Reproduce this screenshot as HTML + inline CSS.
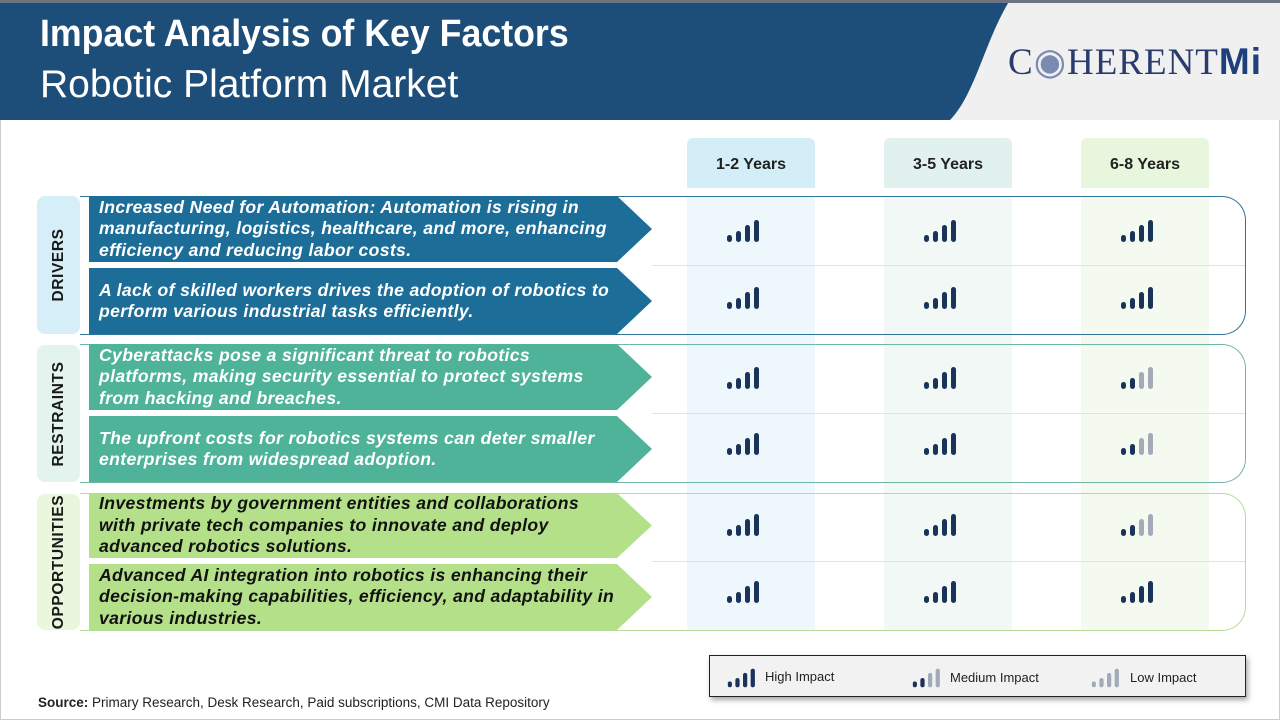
<!DOCTYPE html>
<html><head><meta charset="utf-8"><style>
*{margin:0;padding:0;box-sizing:border-box}
body{width:1280px;height:720px;overflow:hidden;background:#fff;font-family:"Liberation Sans",sans-serif;position:relative}
.abs{position:absolute}
.arrow{position:absolute;left:89px;width:563px;clip-path:polygon(0 0,528px 0,100% 50%,528px 100%,0 100%);color:#fff;font-style:italic;font-weight:bold;font-size:17.6px;letter-spacing:0.35px;line-height:21.5px;padding-left:10px;display:flex;align-items:center;white-space:nowrap}
.side{position:absolute;left:37px;width:43px;border-radius:8px}
.side span{position:absolute;left:50%;top:50%;transform:translate(-50%,-50%) rotate(-90deg);font-weight:bold;font-size:15.5px;color:#1a1a1a;letter-spacing:0.6px;white-space:nowrap}
.grp{position:absolute;left:80px;width:1166px;border:1.5px solid;border-left:none;border-radius:0 24px 24px 0}
.col{position:absolute;width:128px}
.hdr{position:absolute;top:138px;height:50px;width:128px;border-radius:6px 6px 0 0;font-weight:bold;font-size:16px;text-align:center;line-height:54px;color:#222}
.ic{position:absolute;width:36px;height:22px}
.sep{position:absolute;left:652px;width:593px;height:1px;background:#e2e2e2}
</style></head><body>
<div class="abs" style="left:0;top:0;width:1280px;height:120px;background:#f0f0f0"></div>
<svg class="abs" style="left:0;top:0" width="1280" height="120"><path d="M0 0 L1010 0 C985 40 975 95 950 120 L0 120 Z" fill="#1d4e79"/><rect x="0" y="0" width="1280" height="3" fill="#6b7480"/></svg>
<div class="abs" style="left:40px;top:13px;font-size:38px;font-weight:bold;color:#fff;transform:scaleX(0.94);transform-origin:left;white-space:nowrap">Impact Analysis of Key Factors</div>
<div class="abs" style="left:40px;top:63px;font-size:39px;color:#fff;transform:scaleX(1.0);transform-origin:left;white-space:nowrap">Robotic Platform Market</div>
<div class="abs" style="left:1008px;top:40px;font-family:'Liberation Serif',serif;font-size:37px;color:#2a3a6e;letter-spacing:1px;white-space:nowrap">C<span style="color:#7a8ab0">◉</span>HERENT<b style="font-family:'Liberation Sans',sans-serif;color:#1d3f7a">Mi</b></div>
<div class="abs" style="left:0;top:120px;width:1280px;height:600px;border:1px solid #ccc;border-top:none"></div>

<div class="col" style="left:687px;top:196px;height:434px;background:#eef8fc"></div>
<div class="col" style="left:884px;top:196px;height:434px;background:#f1f8f6"></div>
<div class="col" style="left:1081px;top:196px;height:434px;background:#f4faef"></div>
<div class="hdr" style="left:687px;background:#d4eef8">1-2 Years</div>
<div class="hdr" style="left:884px;background:#e0f1ee">3-5 Years</div>
<div class="hdr" style="left:1081px;background:#e8f6dd">6-8 Years</div>

<div class="grp" style="top:196px;height:139px;border-color:#2f7499"></div>
<div class="grp" style="top:344px;height:139px;border-color:#6fb7a4"></div>
<div class="grp" style="top:493px;height:138px;border-color:#b6dc9c"></div>
<div class="sep" style="top:265px"></div>
<div class="sep" style="top:413px"></div>
<div class="sep" style="top:561px"></div>

<div class="side" style="top:196px;height:138px;background:#d6eef8"><span>DRIVERS</span></div>
<div class="side" style="top:345px;height:137px;background:#e3f3ee"><span>RESTRAINTS</span></div>
<div class="side" style="top:494px;height:136px;background:#eaf7dc"><span>OPPORTUNITIES</span></div>

<div class="arrow" style="top:196px;height:66px;background:#1c6e99">Increased Need for Automation: Automation is rising in<br>manufacturing, logistics, healthcare, and more, enhancing<br>efficiency and reducing labor costs.</div>
<div class="arrow" style="top:268px;height:66px;background:#1c6e99">A lack of skilled workers drives the adoption of robotics to<br>perform various industrial tasks efficiently.</div>
<div class="arrow" style="top:344px;height:66px;background:#4fb39a">Cyberattacks pose a significant threat to robotics<br>platforms, making security essential to protect systems<br>from hacking and breaches.</div>
<div class="arrow" style="top:416px;height:66px;background:#4fb39a">The upfront costs for robotics systems can deter smaller<br>enterprises from widespread adoption.</div>
<div class="arrow" style="top:493px;height:65px;background:#b5e08a;color:#111">Investments by government entities and collaborations<br>with private tech companies to innovate and deploy<br>advanced robotics solutions.</div>
<div class="arrow" style="top:564px;height:66px;background:#b5e08a;color:#111">Advanced AI integration into robotics is enhancing their<br>decision-making capabilities, efficiency, and adaptability in<br>various industries.</div>

<svg width="0" height="0" style="position:absolute"><defs>
<g id="h"><rect x="0" y="15" width="5" height="7" rx="2.5" fill="#1a3358"/><rect x="9" y="11" width="5" height="11" rx="2.5" fill="#1a3358"/><rect x="18" y="5" width="5" height="17" rx="2.5" fill="#1a3358"/><rect x="27" y="0" width="5" height="22" rx="2.5" fill="#1a3358"/></g>
<g id="m"><rect x="0" y="15" width="5" height="7" rx="2.5" fill="#1a3358"/><rect x="9" y="11" width="5" height="11" rx="2.5" fill="#1a3358"/><rect x="18" y="5" width="5" height="17" rx="2.5" fill="#a3abba"/><rect x="27" y="0" width="5" height="22" rx="2.5" fill="#a3abba"/></g>
<g id="l"><rect x="0" y="15" width="5" height="7" rx="2.5" fill="#a3abba"/><rect x="9" y="11" width="5" height="11" rx="2.5" fill="#a3abba"/><rect x="18" y="5" width="5" height="17" rx="2.5" fill="#a3abba"/><rect x="27" y="0" width="5" height="22" rx="2.5" fill="#a3abba"/></g>
</defs></svg>
<svg class="ic" style="left:727px;top:220px"><use href="#h"/></svg>
<svg class="ic" style="left:924px;top:220px"><use href="#h"/></svg>
<svg class="ic" style="left:1121px;top:220px"><use href="#h"/></svg>
<svg class="ic" style="left:727px;top:287px"><use href="#h"/></svg>
<svg class="ic" style="left:924px;top:287px"><use href="#h"/></svg>
<svg class="ic" style="left:1121px;top:287px"><use href="#h"/></svg>
<svg class="ic" style="left:727px;top:367px"><use href="#h"/></svg>
<svg class="ic" style="left:924px;top:367px"><use href="#h"/></svg>
<svg class="ic" style="left:1121px;top:367px"><use href="#m"/></svg>
<svg class="ic" style="left:727px;top:433px"><use href="#h"/></svg>
<svg class="ic" style="left:924px;top:433px"><use href="#h"/></svg>
<svg class="ic" style="left:1121px;top:433px"><use href="#m"/></svg>
<svg class="ic" style="left:727px;top:514px"><use href="#h"/></svg>
<svg class="ic" style="left:924px;top:514px"><use href="#h"/></svg>
<svg class="ic" style="left:1121px;top:514px"><use href="#m"/></svg>
<svg class="ic" style="left:727px;top:581px"><use href="#h"/></svg>
<svg class="ic" style="left:924px;top:581px"><use href="#h"/></svg>
<svg class="ic" style="left:1121px;top:581px"><use href="#h"/></svg>

<div class="abs" style="left:709px;top:655px;width:537px;height:42px;background:#f2f2f2;border:1.5px solid #222;box-shadow:2px 3px 5px rgba(0,0,0,0.35)"></div>
<svg class="ic" style="left:725px;top:667px;transform:scale(0.85)"><use href="#h"/></svg>
<div class="abs" style="left:765px;top:669px;font-size:13px;color:#222">High Impact</div>
<svg class="ic" style="left:910px;top:667px;transform:scale(0.85)"><use href="#m"/></svg>
<div class="abs" style="left:950px;top:670px;font-size:13px;color:#222">Medium Impact</div>
<svg class="ic" style="left:1089px;top:667px;transform:scale(0.85)"><use href="#l"/></svg>
<div class="abs" style="left:1130px;top:670px;font-size:13px;color:#222">Low Impact</div>

<div class="abs" style="left:38px;top:695px;font-size:13.5px;color:#222;white-space:nowrap"><b>Source:</b> Primary Research, Desk Research, Paid subscriptions, CMI Data Repository</div>
</body></html>
